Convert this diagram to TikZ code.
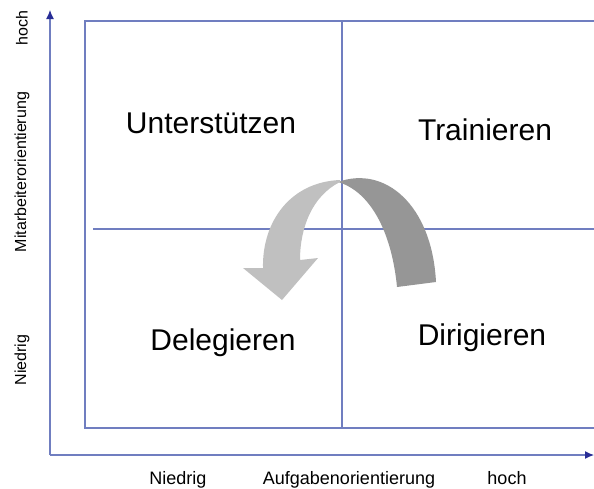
\documentclass[tikz,border=0pt]{standalone}
\usepackage{fontspec}
\setmainfont{Liberation Sans}
\usetikzlibrary{arrows.meta}
\definecolor{gridblue}{RGB}{112,126,192}
\definecolor{tipblue}{RGB}{40,45,150}
\definecolor{lightarc}{RGB}{192,192,192}
\definecolor{darkarc}{RGB}{150,150,150}
\tikzset{
  quadlabel/.style={font=\fontsize{30}{36}\selectfont, inner sep=0pt},
  axislabel/.style={font=\fontsize{18}{22}\selectfont, inner sep=0pt, anchor=base},
  sidelabel/.style={font=\fontsize{16}{19}\selectfont, inner sep=0pt, rotate=90},
}
\begin{document}
\begin{tikzpicture}[x=1pt,y=-1pt]
        \useasboundingbox (0,0) rectangle (594,488);
        % axes
        \draw[gridblue, line width=1.2pt, -{Latex[length=9pt,width=8pt,color=tipblue]}] (50,455) -- (50,10);
        \draw[gridblue, line width=1.2pt, -{Latex[length=9pt,width=8pt,color=tipblue]}] (50,455) -- (594,455);
        % frame and quadrants
        \draw[gridblue, line width=1.2pt] (600,21) -- (85,21) -- (85,428) -- (600,428);
        \draw[gridblue, line width=1.2pt] (93,229) -- (600,229);
        \draw[gridblue, line width=1.2pt] (342,21) -- (342,428);
        % turning arrow
        \fill[darkarc] (397,287) .. controls (392,235) and (372,192) .. (338,182)
          .. controls (385,165) and (432,205) .. (436,282) -- cycle;
        \fill[lightarc] (340,180) .. controls (290,182) and (262,222) .. (263,268)
          -- (243,268) -- (282,300) -- (318,258) -- (300,260)
          .. controls (300,228) and (312,196) .. (340,182) -- cycle;
        % quadrant names
        \node[quadlabel] (unterstuetzen) at (211,123) {Unterstützen};
        \node[quadlabel] (trainieren) at (485,130) {Trainieren};
        \node[quadlabel] (delegieren) at (223,343) {Delegieren};
        \node[quadlabel] (dirigieren) at (482,338) {Dirigieren};
        % axis names
        \node[axislabel] (xlow) at (178,484) {Niedrig};
        \node[axislabel] (xname) at (349,484) {Aufgabenorientierung};
        \node[axislabel] (xhigh) at (507,484) {hoch};
        \node[sidelabel] (yhigh) at (22,28) {hoch};
        \node[sidelabel] (yname) at (22,172) {Mitarbeiterorientierung};
        \node[sidelabel] (ylow) at (22,360) {Niedrig};
      \end{tikzpicture}
\end{document}
